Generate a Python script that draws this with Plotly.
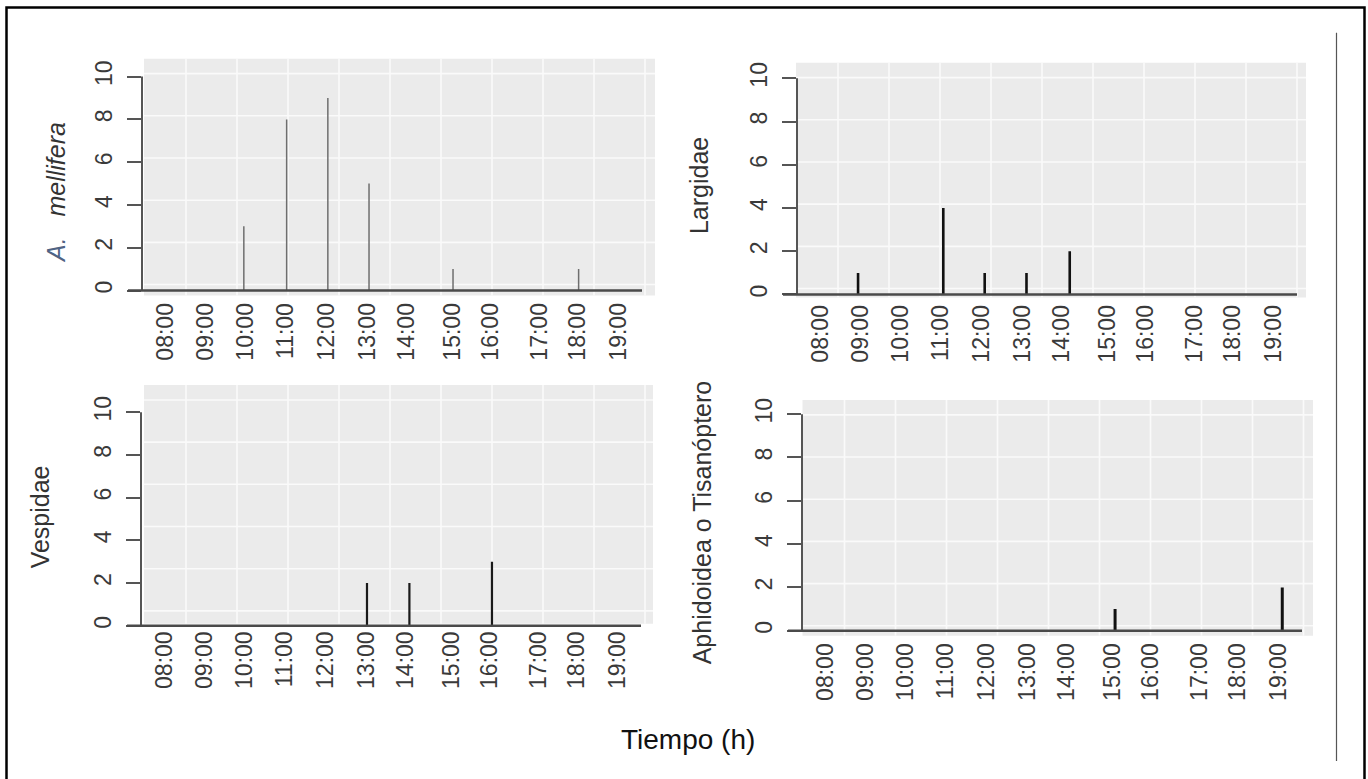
import plotly.graph_objects as go

W, H = 1368, 779

# ---------------- data ----------------
hour_labels = ["08:00", "09:00", "10:00", "11:00", "12:00", "13:00",
               "14:00", "15:00", "16:00", "17:00", "18:00", "19:00"]
tick_pos = [8.0, 8.95, 9.92, 10.91, 11.91, 12.9, 13.85, 14.97, 15.89, 17.06, 18.0, 19.0]
y_ticks = [0, 2, 4, 6, 8, 10]

mellifera_x = [9.89, 10.93, 11.93, 12.93, 14.97, 18.02]
mellifera_n = [3, 8, 9, 5, 1, 1]

largidae_x = [8.90, 10.97, 11.975, 12.99, 14.04]
largidae_n = [1, 4, 1, 1, 2]

vespidae_x = [12.905, 13.935, 15.94]
vespidae_n = [2, 2, 3]

aphid_x = [15.02, 19.08]
aphid_n = [1, 2]

title_mell = ("<span style='color:#4F6384'><i>A.</i></span>"
              "\u00a0\u00a0\u00a0<i>mellifera</i>")
title_larg = "Largidae"
title_vesp = "Vespidae"
title_aphid = "Aphidoidea o Tisanóptero"
x_title = "Tiempo (h)"

# ---------------- layout geometry (pixels) ----------------
FONT = "Liberation Sans, Arial, Helvetica, sans-serif"
PXH = 41.18  # pixels per hour

panels = [
    dict(x=mellifera_x, n=mellifera_n, X0=142, GL=144, GR=655, GT=57, GB=295,
         Y0=290, Y10=75, col="#6e6e6e", lw=1.5, title=title_mell, tx=56, ty=192),
    dict(x=largidae_x, n=largidae_n, X0=797, GL=796, GR=1306, GT=61, GB=297,
         Y0=294, Y10=76.7, col="#111111", lw=2.6, title=title_larg, tx=699, ty=185),
    dict(x=vespidae_x, n=vespidae_n, X0=141, GL=144, GR=653, GT=385, GB=625,
         Y0=627, Y10=412.3, col="#1a1a1a", lw=2.2, title=title_vesp, tx=40, ty=518),
    dict(x=aphid_x, n=aphid_n, X0=802, GL=802.5, GR=1313, GT=400, GB=637,
         Y0=632, Y10=414.3, col="#111111", lw=3.0, title=title_aphid, tx=702, ty=523),
]


def px(xp):
    return xp / W


def py(yp):
    return 1 - yp / H


fig = go.Figure()
shapes = []
annotations = []

for i, p in enumerate(panels):
    sfx = "" if i == 0 else str(i + 1)
    X0 = p["X0"]
    k = (p["Y0"] - p["Y10"]) / 10.0
    PB = max(p["GB"], p["Y0"] + 1)  # plot-area bottom

    def hour_of(xpix, X0=X0):
        return 8 + (xpix - X0 - 24) / PXH

    # bars (type = 'h')
    bx, by = [], []
    for xv, nv in zip(p["x"], p["n"]):
        bx += [xv, xv, None]
        by += [0, nv, None]
    fig.add_trace(go.Scatter(
        x=bx, y=by, mode="lines", xaxis="x" + sfx, yaxis="y" + sfx,
        line=dict(color=p["col"], width=p["lw"]), cliponaxis=False,
        hoverinfo="skip", showlegend=False))

    fig.layout["xaxis" + sfx] = dict(
        domain=[px(X0), px(p["GR"])],
        range=[hour_of(X0), hour_of(p["GR"])],
        anchor="y" + sfx, tickmode="array", tickvals=tick_pos, ticktext=hour_labels,
        tickangle=-90, ticks="", showgrid=False, zeroline=False, showline=False,
        tickfont=dict(family=FONT, size=23, color="#3a3a3a"),
        ticklabelstandoff=2 + (p["GB"] - PB) if PB > p["GB"] else 2, fixedrange=True)
    fig.layout["yaxis" + sfx] = dict(
        domain=[py(PB), py(p["GT"])],
        range=[(p["Y0"] - PB) / k, (p["Y0"] - p["GT"]) / k],
        anchor="x" + sfx, tickmode="array", tickvals=y_ticks,
        tickangle=-90, ticks="outside", ticklen=14, tickwidth=2, tickcolor="#555555",
        showgrid=False, zeroline=False, showline=False,
        tickfont=dict(family=FONT, size=23, color="#3a3a3a"),
        ticklabelstandoff=6, fixedrange=True)

    # grey panel background
    shapes.append(dict(type="rect", xref="paper", yref="paper", layer="below",
                       x0=px(p["GL"]), x1=px(p["GR"]), y0=py(p["GB"]), y1=py(p["GT"]),
                       fillcolor="#EBEBEB", line=dict(width=0)))
    # white grid lines
    for j in range(10):
        gx = p["GL"] + 42 + 51 * j
        if gx < p["GR"]:
            shapes.append(dict(type="line", xref="paper", yref="paper", layer="below",
                               x0=px(gx), x1=px(gx), y0=py(p["GB"]), y1=py(p["GT"]),
                               line=dict(color="#FAFAFA", width=1.6)))
    for j in range(6):
        gy = p["GT"] + 15 + 42.4 * j
        if gy < p["GB"]:
            shapes.append(dict(type="line", xref="paper", yref="paper", layer="below",
                               x0=px(p["GL"]), x1=px(p["GR"]), y0=py(gy), y1=py(gy),
                               line=dict(color="#FAFAFA", width=1.6)))
    # y axis line (0..10)
    shapes.append(dict(type="line", xref="paper", yref="paper",
                       x0=px(X0), x1=px(X0), y0=py(p["Y0"]), y1=py(p["Y10"]),
                       line=dict(color="#555555", width=2)))
    # baseline at y = 0
    shapes.append(dict(type="line", xref="paper", yref="paper",
                       x0=px(X0 - 14), x1=px(X0 + 500), y0=py(p["Y0"]), y1=py(p["Y0"]),
                       line=dict(color="#4a4a4a", width=2.5)))
    # y title
    annotations.append(dict(text=p["title"], xref="paper", yref="paper",
                            x=px(p["tx"]), y=py(p["ty"]), xanchor="center", yanchor="middle",
                            textangle=-90, showarrow=False,
                            font=dict(family=FONT, size=25, color="#333333")))

annotations.append(dict(text=x_title, xref="paper", yref="paper",
                        x=px(688), y=py(741), xanchor="center", yanchor="middle",
                        showarrow=False, font=dict(family=FONT, size=28, color="#111111")))

# outer frame and right thin line
shapes.append(dict(type="rect", xref="paper", yref="paper",
                   x0=px(6.5), x1=px(1364.5), y0=-0.02, y1=py(5.5),
                   line=dict(color="#000000", width=2.5), fillcolor="rgba(0,0,0,0)"))
shapes.append(dict(type="line", xref="paper", yref="paper",
                   x0=px(1336.5), x1=px(1336.5), y0=py(31), y1=py(763),
                   line=dict(color="#555555", width=1.2)))

fig.update_layout(width=W, height=H, autosize=False,
                  margin=dict(l=0, r=0, t=0, b=0, pad=0),
                  paper_bgcolor="white", plot_bgcolor="rgba(0,0,0,0)",
                  shapes=shapes, annotations=annotations,
                  font=dict(family=FONT), showlegend=False)

fig.write_html("out.html", config={"displayModeBar": False})
